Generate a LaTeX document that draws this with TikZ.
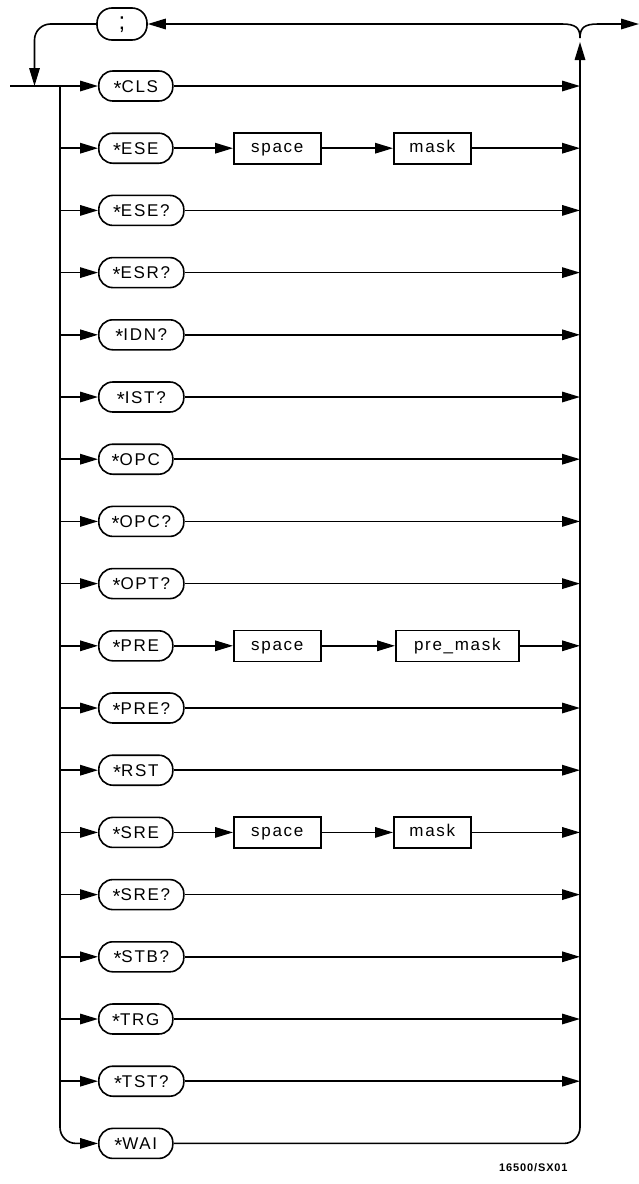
\documentclass[tikz,border=0pt]{standalone}
\usepackage{fontspec}
\newfontfamily\diag{Liberation Sans}[LetterSpace=10]
\newfontfamily\lblfont{Liberation Sans}[LetterSpace=8]
\usetikzlibrary{arrows.meta}
\newcommand{\st}{\raisebox{-3pt}{\scalebox{1.2}{*}}}
\begin{document}
\begin{tikzpicture}[x=1pt,y=-1pt,line width=1.6pt,
  arr/.style={-{Triangle[length=18pt,width=10.5pt]}},
  cmd/.style={draw,rounded corners=14pt,minimum height=30pt,minimum width=74pt,
    inner sep=0pt,anchor=west,text height=12.2pt,text depth=0pt,
    font=\diag\fontsize{17}{17}\selectfont},
  cmdq/.style={cmd,minimum width=85pt},
  semi/.style={cmd,anchor=center,minimum width=50pt,minimum height=32pt,
    rounded corners=15pt,text height=14pt,text depth=3pt,
    font=\diag\fontsize{24}{24}\selectfont},
  box/.style={draw,minimum height=31pt,inner sep=0pt,anchor=west,
    text height=10pt,text depth=1.2pt,font=\diag\fontsize{17}{17}\selectfont}]
\useasboundingbox (0,0) rectangle (639,1184);

% top semicolon node
\node[semi] (semi) at (122,24) {;};

% rows
\foreach \i/\t/\s in {0/\st CLS/cmd,1/\st ESE/cmd,2/\st ESE?/cmdq,3/\st ESR?/cmdq,
  4/\st IDN?/cmdq,5/\st IST?/cmdq,6/\st OPC/cmd,7/\st OPC?/cmdq,8/\st OPT?/cmdq,
  9/\st PRE/cmd,10/\st PRE?/cmdq,11/\st RST/cmd,12/\st SRE/cmd,13/\st SRE?/cmdq,
  14/\st STB?/cmdq,15/\st TRG/cmd,16/\st TST?/cmdq,17/\st WAI/cmd}{
  \node[\s] (r\i) at (98,{86+62.2*\i}) {\t};
  \coordinate (L\i) at (60,{86+62.2*\i});
  \coordinate (R\i) at (580,{86+62.2*\i});
}

% parameter boxes
\node[box,minimum width=87pt] (s1) at (233,{86+62.2*1}) {space};
\node[box,minimum width=77pt] (m1) at (393,{86+62.2*1}) {mask};
\node[box,minimum width=87pt] (s9) at (233,{86+62.2*9}) {space};
\node[box,minimum width=123pt] (m9) at (395,{86+62.2*9}) {pre\_mask};
\node[box,minimum width=87pt] (s12) at (233,{86+62.2*12}) {space};
\node[box,minimum width=77pt] (m12) at (393,{86+62.2*12}) {mask};

% entry
\coordinate (Entry) at (10,86);
\draw[arr] (Entry) -- (r0.west);

% left bus to WAI
\draw[arr,rounded corners=16pt] (L0) |- (r17.west);

% left arrows into rows 1..16
\foreach \i in {1,...,16}{
  \draw[arr] (L\i) -- (r\i.west);
}

% right arrows for simple rows
\foreach \i in {0,2,3,4,5,6,7,8,10,11,13,14,15,16}{
  \draw[arr] (r\i.east) -- (R\i);
}

% rows with parameters
\foreach \i in {1,9,12}{
  \draw[arr] (r\i.east) -- (s\i.west);
  \draw[arr] (s\i.east) -- (m\i.west);
  \draw[arr] (m\i.east) -- (R\i);
}

% right bus
\coordinate (B) at (580,70);
\coordinate (Btip) at (580,42);
\coordinate (J) at (580,38);
\draw[rounded corners=16pt] (r17.east) -| (B);
\draw[arr] (B) -- (Btip);

% loop back to semicolon and exit
\draw[arr] (J) .. controls (580,28) and (576,24) .. (562,24) -- (semi.east);
\coordinate (Exit) at (639,24);
\draw[arr] (J) .. controls (580,28) and (584,24) .. (598,24) -- (Exit);

% semicolon back to entry
\coordinate (Ldown) at (34.5,86);
\draw[arr,rounded corners=16pt] (semi.west) -| (Ldown);

% label
\node[font=\lblfont\bfseries\fontsize{11}{11}\selectfont,anchor=west] (lbl) at (495,1168) {16500/SX01};
\end{tikzpicture}
\end{document}
